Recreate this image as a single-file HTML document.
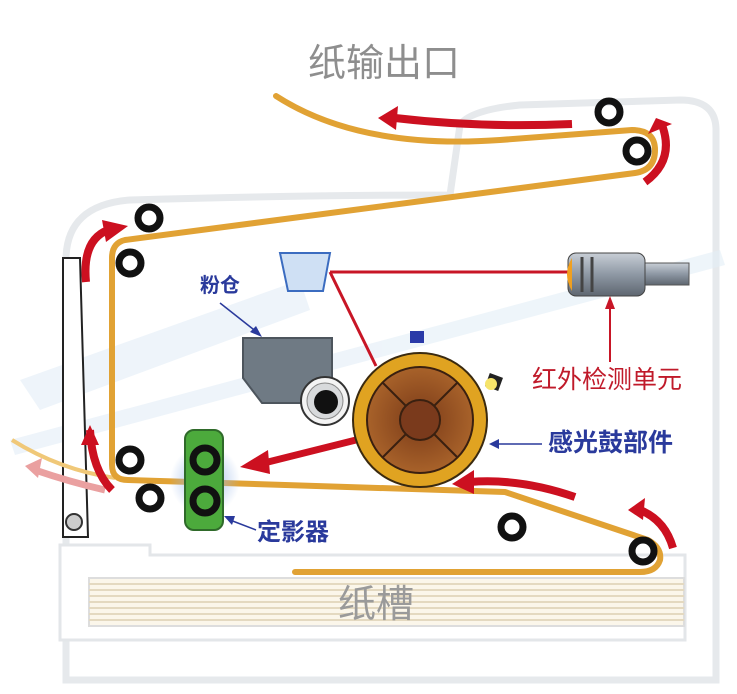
<!DOCTYPE html>
<html><head><meta charset="utf-8"><style>
html,body{margin:0;padding:0;background:#fff;width:737px;height:694px;overflow:hidden}
svg{display:block}
text{font-family:"Liberation Sans","Noto Sans CJK SC",sans-serif}
</style></head><body>
<svg width="737" height="694" viewBox="0 0 737 694" xmlns="http://www.w3.org/2000/svg">
<defs>
<linearGradient id="sg" x1="0" y1="0" x2="0" y2="1"><stop offset="0" stop-color="#c8ced6"/><stop offset=".5" stop-color="#8e98a4"/><stop offset="1" stop-color="#5e6670"/></linearGradient>
<radialGradient id="dr" cx=".5" cy=".5" r=".5"><stop offset="0" stop-color="#7a3a18"/><stop offset="1" stop-color="#a8622a"/></radialGradient>
<radialGradient id="glow" cx=".5" cy=".5" r=".5"><stop offset="0" stop-color="#9ab8e8"/><stop offset="1" stop-color="#9ab8e8" stop-opacity="0"/></radialGradient>
</defs>
<!-- machine outline -->
<g fill="none" stroke="#e6e9ec" stroke-width="7">
<path d="M66,545 V260 Q66,205 130,200 Q300,195 450,195 L460,125 Q470,110 520,105 L680,100 Q716,100 716,130 V680 H66 V640"/>
</g>
<path d="M60,545 H150 V555 H685 V640 H60 Z" fill="#fff" stroke="#e3e6e9" stroke-width="3"/>
<!-- watermark -->
<g fill="#e3eef7" opacity=".6">
<path d="M20,380 L300,280 L310,310 L40,410 Z"/>
<path d="M10,440 L720,250 L725,265 L15,455 Z"/>
</g>
<!-- paper tray -->
<g stroke="#e4d9c0" stroke-width="2">
<rect x="89" y="578" width="595" height="48" fill="#fbf6ea" stroke="#ddd"/>
<line x1="89" y1="584" x2="684" y2="584"/><line x1="89" y1="590" x2="684" y2="590"/><line x1="89" y1="596" x2="684" y2="596"/><line x1="89" y1="602" x2="684" y2="602"/><line x1="89" y1="608" x2="684" y2="608"/><line x1="89" y1="614" x2="684" y2="614"/><line x1="89" y1="620" x2="684" y2="620"/>
</g>
<text x="338" y="617" font-size="38" fill="#9a9a9a">纸槽</text>
<!-- title -->
<text x="308" y="76" font-size="38" fill="#8e8e8e">纸输出口</text>
<!-- door -->
<path d="M63,258 H80 L88,537 H63 Z" fill="#fff" stroke="#222" stroke-width="2"/>
<circle cx="74" cy="522" r="8" fill="#ccc" stroke="#333" stroke-width="2"/>
<!-- faint exit paper -->
<path d="M12,440 Q60,470 115,478" fill="none" stroke="#f0c878" stroke-width="4"/>
<path d="M105,490 Q70,482 35,470" fill="none" stroke="#eaa0a0" stroke-width="7"/>
<path d="M25,466 L42,458 L38,478 Z" fill="#eaa0a0"/>
<!-- paper path -->
<g fill="none" stroke="#e1a234" stroke-width="6" stroke-linecap="round" stroke-linejoin="round">
<path d="M276,96 Q360,150 500,140 L632,130 Q655,130 655,150 Q655,170 635,173 L125,240 Q112,243 112,258 V465 Q112,480 128,480 L505,492 L648,540 Q662,548 660,560 Q656,572 640,572 L295,572"/>
</g>
<!-- rollers -->
<g fill="none" stroke="#111" stroke-width="7">
<circle cx="609" cy="112" r="11"/><circle cx="637" cy="151" r="11"/>
<circle cx="149" cy="218" r="11"/><circle cx="130" cy="263" r="11"/>
<circle cx="512" cy="527" r="11"/><circle cx="643" cy="551" r="11"/>
</g>
<!-- fuser -->
<circle cx="205" cy="480" r="35" fill="url(#glow)"/>
<rect x="185" y="430" width="38" height="100" rx="9" fill="#4caa3c" stroke="#2f6a2a" stroke-width="2"/>
<g fill="none" stroke="#111" stroke-width="7">
<circle cx="130" cy="460" r="11"/><circle cx="150" cy="498" r="11"/>
<circle cx="205" cy="460" r="12"/><circle cx="205" cy="501" r="12"/>
</g>
<!-- red arrows -->
<g fill="none" stroke="#cc1020" stroke-width="8">
<path d="M572,124 Q480,128 395,118"/>
<path d="M645,182 Q675,160 662,125"/>
<path d="M86,282 Q82,240 108,230"/>
<path d="M112,490 Q92,470 90,430"/>
<path d="M372,436 L268,462" stroke-width="7"/>
<path d="M575,497 Q520,478 470,482"/>
<path d="M673,548 Q665,520 640,510"/>
</g>
<g fill="#cc1020">
<path d="M378,118 L398,106 L396,130 Z"/>
<path d="M656,118 L672,124 L648,134 Z"/>
<path d="M128,226 L106,242 L102,220 Z"/>
<path d="M90,425 L99,445 L81,445 Z"/>
<path d="M240,467 L268,450 L270,474 Z"/>
<path d="M452,484 L474,470 L474,494 Z"/>
<path d="M628,510 L645,498 L643,520 Z"/>
</g>
<!-- hopper -->
<path d="M243,338 H332 V385 L318,403 H262 L243,378 Z" fill="#6f7a84" stroke="#4d555d" stroke-width="2"/>
<circle cx="325" cy="401" r="24" fill="#f4f4f4" stroke="#333" stroke-width="2"/>
<circle cx="325" cy="401" r="18" fill="#d8dadc" stroke="#888"/>
<circle cx="326" cy="402" r="12" fill="#111"/>
<!-- lens -->
<path d="M280,253 H330 L323,291 H288 Z" fill="#cfe0f4" stroke="#3b6cc0" stroke-width="2"/>
<!-- red beam -->
<path d="M330,272 H568 M330,272 L376,366" fill="none" stroke="#c81626" stroke-width="3"/>
<!-- drum -->
<circle cx="420" cy="420" r="67" fill="#e0a321" stroke="#3a2a10" stroke-width="2"/>
<circle cx="420" cy="420" r="53" fill="url(#dr)" stroke="#3a2010" stroke-width="2"/>
<g stroke="#3a2010" stroke-width="2"><line x1="383" y1="383" x2="457" y2="457"/><line x1="457" y1="383" x2="383" y2="457"/></g>
<circle cx="420" cy="420" r="20" fill="#7a3a1c" stroke="#3a2010" stroke-width="2"/>
<rect x="410" y="331" width="14" height="12" fill="#2a3aa8"/>
<rect x="487" y="375" width="14" height="14" fill="#222" transform="rotate(20 494 382)"/>
<circle cx="491" cy="384" r="6" fill="#f6e46a"/>
<!-- sensor -->
<rect x="645" y="263" width="44" height="22" fill="url(#sg)" stroke="#555"/>
<rect x="568" y="253" width="77" height="43" rx="8" fill="url(#sg)" stroke="#444"/>
<path d="M572,258 Q562,274 572,291 Z" fill="#f0a020"/>
<line x1="582" y1="257" x2="582" y2="292" stroke="#444" stroke-width="3"/>
<line x1="592" y1="257" x2="592" y2="292" stroke="#444" stroke-width="3"/>
<line x1="610" y1="362" x2="610" y2="305" stroke="#c81626" stroke-width="2"/>
<path d="M610,296 L615,309 L605,309 Z" fill="#c81626"/>
<!-- labels -->
<text x="532" y="388" font-size="25" fill="#c01a2a">红外检测单元</text>
<text x="200" y="292" font-size="20" font-weight="bold" fill="#2a3a9c">粉仓</text>
<line x1="220" y1="303" x2="258" y2="333" stroke="#2a3a9c" stroke-width="1.5"/>
<path d="M262,337 L250,332 L256,326 Z" fill="#2a3a9c"/>
<text x="548" y="451" font-size="25" font-weight="bold" fill="#2a3a9c">感光鼓部件</text>
<line x1="542" y1="444" x2="496" y2="444" stroke="#2a3a9c" stroke-width="1.5"/>
<path d="M489,444 L499,439 L499,449 Z" fill="#2a3a9c"/>
<text x="257" y="540" font-size="24" font-weight="bold" fill="#2a3a9c">定影器</text>
<line x1="256" y1="530" x2="230" y2="520" stroke="#2a3a9c" stroke-width="1.5"/>
<path d="M224,516 L235,516 L232,525 Z" fill="#2a3a9c"/>
</svg>
</body></html>
